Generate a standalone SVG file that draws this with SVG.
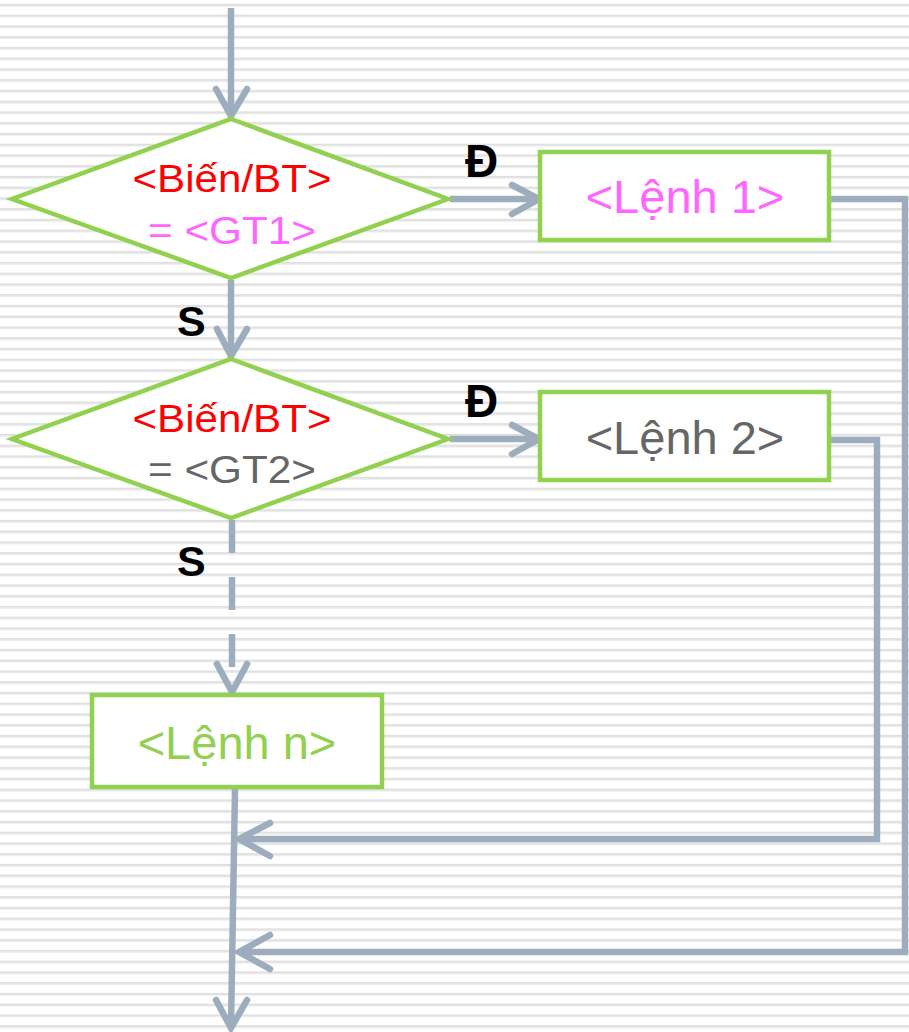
<svg xmlns="http://www.w3.org/2000/svg" width="909" height="1032" viewBox="0 0 909 1032">
<defs>
<pattern id="stripes" x="0" y="0" width="20" height="10.75" patternUnits="userSpaceOnUse">
<rect x="0" y="0" width="20" height="10.75" fill="#ffffff"/>
<rect x="0" y="4" width="20" height="1.6" fill="#dadada"/>
<rect x="0" y="5.6" width="20" height="1.2" fill="#ececec"/>
</pattern>
<style>
.shape{fill:#ffffff;stroke:#92d050;stroke-width:4.5;stroke-linejoin:miter}
.conn{fill:none;stroke:#9eadbd;stroke-width:6.5;stroke-linejoin:miter}
.head{fill:none;stroke:#9eadbd;stroke-width:6.5;stroke-linecap:round;stroke-linejoin:miter}
.t{font-family:"Liberation Sans",Arial,sans-serif;text-anchor:middle}
.lbl{font-family:"Liberation Sans",Arial,sans-serif;font-weight:bold;font-size:43px;fill:#000000}
.lblD{font-size:46px}
</style>
</defs>
<rect x="0" y="0" width="909" height="1032" fill="url(#stripes)"/>

<g id="connectors">
<line class="conn" x1="231" y1="8" x2="231" y2="115"/>
<polyline class="head" points="216,89 231,116 247,89"/>
<line class="conn" x1="231" y1="280" x2="231" y2="355"/>
<polyline class="head" points="217,329 231,356 247,329"/>
<line class="conn" x1="450" y1="199" x2="538" y2="199"/>
<polyline class="head" points="512,185 539,199 512,214"/>
<line class="conn" x1="450" y1="439" x2="538" y2="439"/>
<polyline class="head" points="512,425 539,439 512,454"/>
<line class="conn" x1="232" y1="520" x2="232" y2="691" stroke-dasharray="33 24" style="stroke-linecap:butt"/>
<polyline class="head" points="217,664 232,692 247,664"/>
<polyline class="conn" points="831,199 905,199 905,952 240,952"/>
<polyline class="head" points="270,935 239,952 270,969"/>
<polyline class="conn" points="831,440 877,440 877,839 240,839"/>
<polyline class="head" points="270,823 239,839 270,856"/>
<line class="conn" x1="235" y1="789" x2="231" y2="1026"/>
<polyline class="head" points="216,1000 231,1028 247,1000"/>
</g>

<g id="decision1">
<polygon class="shape" points="231,119 448,199 231,278 12,199"/>
<text class="t" x="232" y="192" font-size="39" fill="#ff0000" textLength="199" lengthAdjust="spacingAndGlyphs">&lt;Biến/BT&gt;</text>
<text class="t" x="232" y="244" font-size="39" fill="#ff66ff" textLength="168" lengthAdjust="spacingAndGlyphs">= &lt;GT1&gt;</text>
</g>

<g id="decision2">
<polygon class="shape" points="231,359 448,439 231,518 12,439"/>
<text class="t" x="232" y="432" font-size="39" fill="#ff0000" textLength="199" lengthAdjust="spacingAndGlyphs">&lt;Biến/BT&gt;</text>
<text class="t" x="232" y="483" font-size="39" fill="#666666" textLength="168" lengthAdjust="spacingAndGlyphs">= &lt;GT2&gt;</text>
</g>

<g id="lenh1">
<rect class="shape" x="540" y="152" width="289" height="88"/>
<text class="t" x="685" y="213" font-size="47" fill="#ff66ff">&lt;Lệnh 1&gt;</text>
</g>

<g id="lenh2">
<rect class="shape" x="540" y="392" width="289" height="88"/>
<text class="t" x="685" y="454" font-size="47" fill="#666666">&lt;Lệnh 2&gt;</text>
</g>

<g id="lenhn">
<rect class="shape" x="92" y="695" width="290" height="92"/>
<text class="t" x="237" y="759" font-size="47" fill="#92d050">&lt;Lệnh n&gt;</text>
</g>

<g id="labels">
<text class="lbl lblD" x="465" y="177">Đ</text>
<text class="lbl lblD" x="465" y="417">Đ</text>
<text class="lbl" x="177" y="336">S</text>
<text class="lbl" x="177" y="576">S</text>
</g>
</svg>
